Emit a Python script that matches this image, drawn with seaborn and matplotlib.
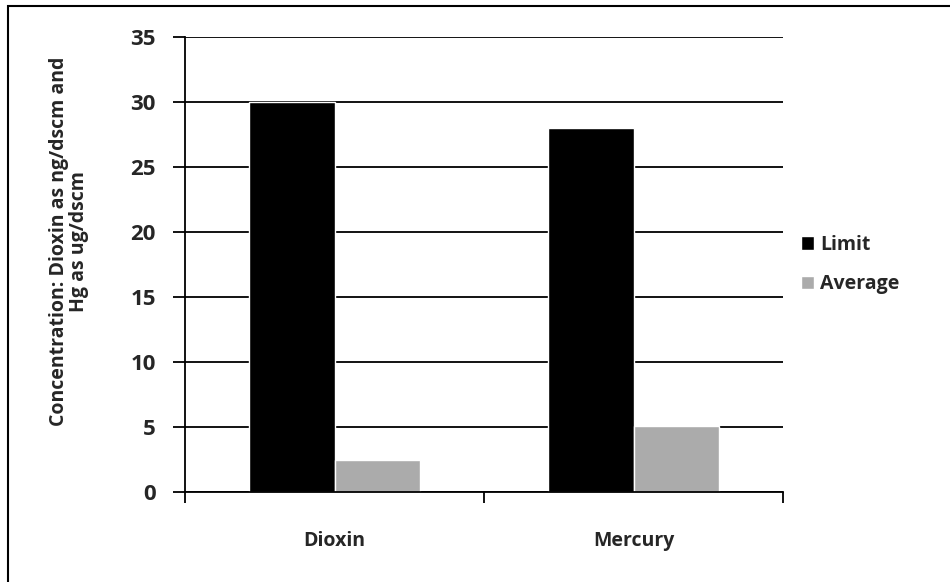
import matplotlib
matplotlib.use("Agg")
import matplotlib.pyplot as plt
import seaborn as sns
import pandas as pd
from matplotlib.patches import Rectangle

categories = ["Dioxin", "Mercury"]
limit_values = [30, 28]
average_values = [2.5, 5.1]
series_names = ["Limit", "Average"]
y_ticks = [0, 5, 10, 15, 20, 25, 30, 35]

df = pd.DataFrame({
    "Pollutant": categories * 2,
    "Series": [series_names[0]] * 2 + [series_names[1]] * 2,
    "Value": limit_values + average_values,
})

sns.set_theme(style="white")
FONT = ["Open Sans", "DejaVu Sans"]
plt.rcParams["font.family"] = FONT
plt.rcParams["font.weight"] = "bold"
plt.rcParams["axes.labelweight"] = "bold"

fig = plt.figure(figsize=(9.5, 5.82), dpi=100)
ax = fig.add_axes([185 / 950, 1 - 492 / 582, (783 - 185) / 950, (492 - 37) / 582])

sns.barplot(data=df, x="Pollutant", y="Value", hue="Series",
            palette={"Limit": "#000000", "Average": "#ababab"},
            width=0.57, saturation=1, ax=ax, legend=True)

ax.set_ylim(0, 35)
ax.set_xlim(-0.5, 1.5)
ax.set_yticks(y_ticks)
ax.set_yticklabels([str(v) for v in y_ticks], fontsize=16, fontweight="bold")
ax.set_xticks(range(len(categories)))
ax.set_xticklabels(categories, fontsize=14, fontweight="bold")
ax.yaxis.grid(True, color="black", linewidth=1.3)
ax.set_axisbelow(True)
for s in ["top", "right"]:
    ax.spines[s].set_visible(False)
for s in ["left", "bottom"]:
    ax.spines[s].set_color("black")
    ax.spines[s].set_linewidth(1.3)

ax.tick_params(axis="y", which="both", length=9, width=1.3, color="black",
               pad=12, left=True)
ax.tick_params(axis="x", length=0, pad=28)
# category boundary ticks on the x axis
ax.set_xticks([-0.5, 0.5, 1.5], minor=True)
ax.tick_params(axis="x", which="minor", length=8, width=1.3, color="black", bottom=True)

ax.set_xlabel("")
ax.set_ylabel("Concentration: Dioxin as ng/dscm and\nHg as ug/dscm",
              fontsize=14, fontweight="bold", linespacing=1.05)
ax.yaxis.set_label_coords(-0.16, 0.55)

leg = ax.legend(loc="center left", bbox_to_anchor=(1.0, 0.5), frameon=False,
                prop={"size": 14, "weight": "bold"}, handlelength=0.7,
                handleheight=0.7, handletextpad=0.3, labelspacing=1.0)

# outer chart frame
fig.patches.append(Rectangle((8 / 950, -0.01), 1.1, 1 - 6 / 582 + 0.01,
                             transform=fig.transFigure, fill=False,
                             edgecolor="black", linewidth=1.5))

fig.savefig("out.png", dpi=100, facecolor="white")
